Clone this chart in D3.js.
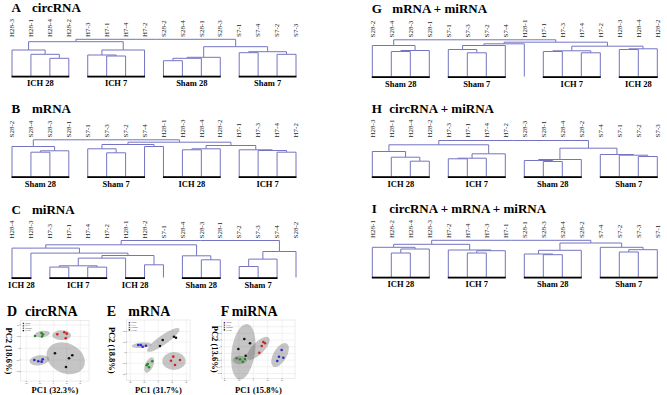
<!DOCTYPE html>
<html>
<head>
<meta charset="utf-8">
<script src="https://cdn.jsdelivr.net/npm/d3@7.9.0/dist/d3.min.js"></script>
<style>
  body { margin: 0; background: #fff; }
  svg { display: block; font-family: "Liberation Serif", "Times New Roman", serif; }
</style>
</head>
<body>
<svg id="fig" width="667" height="395"></svg>
<script>
// dendrograms: leaf order, merges [a, b, height] (negative = leaf position, positive = earlier merge), groups [label, first, last]
const leavesA = ['H28-3','H28-1','H28-4','H28-2','H7-3','H7-1','H7-4','H7-2','S28-2','S28-4','S28-1','S28-3','S7-1','S7-4','S7-2','S7-3'];
const mergesA = [[-3,-4,17.7],[-2,1,21.7],[-1,2,26],[-6,-7,20],[-5,4,21],[5,-8,26],[3,6,34.3],[-9,-10,15.3],[8,-11,17.7],[9,-12,18.7],[-15,-16,21.7],[-13,-14,23.3],[12,11,24.3],[10,13,29.3],[7,14,36.7]];
const groupsA = [['ICH 28',0,3],['ICH 7',4,7],['Sham 28',8,11],['Sham 7',12,15]];

const leavesB = ['S28-2','S28-4','S28-3','S28-1','S7-1','S7-3','S7-2','S7-4','H28-1','H28-3','H28-4','H28-2','H7-1','H7-3','H7-4','H7-2'];
const mergesB = [[-2,-3,24.3],[1,-4,25.7],[-1,2,30],[-6,-7,23.7],[-5,4,27.7],[-8,-9,30],[5,6,32],[-10,-11,26.7],[8,-12,27.7],[-15,-16,24.3],[-14,10,26],[-13,11,26.7],[9,12,31],[7,13,34.3],[3,14,36.7]];
const groupsB = [['Sham 28',0,3],['Sham 7',4,7],['ICH 28',8,11],['ICH 7',12,15]];

const leavesC = ['H28-4','H28-3','H7-3','H7-1','H7-4','H7-2','H28-1','H28-2','S7-1','S28-4','S28-3','S28-1','S7-2','S7-3','S7-4','S28-2'];
const mergesC = [[-3,-4,10.4],[-5,-6,10.4],[1,2,11.7],[-8,-9,12.7],[3,-7,19.4],[5,4,22],[-2,6,24.4],[-1,7,29.4],[-11,-12,17.7],[-10,9,21.7],[8,10,32.7],[-13,-14,11],[12,-15,18.4],[13,-16,26],[11,14,37]];
const groupsC = [['ICH 28',0,1],['ICH 7',2,5],['ICH 28',6,7],['Sham 28',9,11],['Sham 7',12,14]];

const leavesG = ['S28-2','S28-4','S28-3','S28-1','S7-1','S7-3','S7-2','S7-4','H28-1','H7-1','H7-3','H7-4','H7-2','H28-3','H28-4','H28-2'];
const mergesG = [[-2,-3,25],[1,-4,26],[-1,2,31],[-6,-7,23.7],[-5,4,27],[5,-8,31],[6,-9,32.7],[-10,-11,25],[-12,-13,23.7],[8,9,25.7],[-14,-15,27],[11,-16,27.7],[10,12,30.3],[7,13,34.3],[3,14,36.7]];
const groupsG = [['Sham 28',0,3],['Sham 7',4,7],['ICH 7',9,12],['ICH 28',13,15]];

const leavesH = ['H28-3','H28-1','H28-4','H28-2','H7-3','H7-1','H7-4','H7-2','S28-3','S28-1','S28-4','S28-2','S7-4','S7-1','S7-2','S7-3'];
const mergesH = [[-3,-4,15.3],[-2,1,19.3],[-1,2,25],[-5,-6,17.7],[4,-7,18.3],[5,-8,22.7],[3,6,31.7],[-10,-11,15],[-9,8,16],[9,-12,17],[-15,-16,20],[-14,11,21.3],[-13,12,22],[10,13,28.3],[7,14,36]];
const groupsH = [['ICH 28',0,3],['ICH 7',4,7],['Sham 28',8,11],['Sham 7',12,15]];

const leavesI = ['H28-1','H28-2','H28-4','H28-3','H7-2','H7-4','H7-3','H7-1','S28-1','S28-3','S28-4','S28-2','S7-4','S7-2','S7-3','S7-1'];
const mergesI = [[-2,-3,24],[1,-4,28],[-1,2,29.7],[-6,-7,24],[4,-8,26.3],[-5,5,27],[3,6,32.7],[-10,-11,22.3],[-9,8,23],[9,-12,26.7],[-14,-15,25],[11,-16,27.3],[-13,12,29.7],[10,13,34],[7,14,36.7]];
const groupsI = [['ICH 28',0,3],['ICH 7',4,7],['Sham 28',8,11],['Sham 7',12,15]];

// PCA: legend groups, points [group, PC1, PC2], ellipses [group, cx, cy, a, b, angle]
const pcaGroups = ['Sham7','ICH7','Sham28','ICH28'];
const pointsD = [
  ['Sham28',-27.1,21.0],['Sham28',-17.5,26.2],['Sham28',-15.3,23.6],['Sham28',-16.7,20.2],
  ['ICH7',5.9,23.9],['ICH7',16.3,27.4],['ICH7',19.9,25.0],['ICH7',18.4,17.1],
  ['Sham7',-28.1,-20.0],['Sham7',-22.2,-22.2],['Sham7',-17.2,-22.9],['Sham7',-15.7,-18.8],
  ['ICH28',2.5,-8.5],['ICH28',28.1,-12.0],['ICH28',23.3,-17.1],['ICH28',18.8,-32.0]];
const ellipsesD = [['Sham28',-16.3,24.4,11.4,5.5,-8],['ICH7',12.4,22.2,13.8,8.5,0],['Sham7',-20.7,-20.5,14.8,8.5,-8],['ICH28',18.4,-17.1,29.6,25.6,25]];

const pointsE = [
  ['Sham7',-28.6,14.5],['Sham7',-25.1,14.5],['Sham7',-22.3,11.3],['Sham7',-17.6,13.2],
  ['ICH28',2.4,12.6],['ICH28',6.3,24.0],['ICH28',22.4,30.2],['ICH28',25.3,28.3],
  ['Sham28',-15.1,-21.3],['Sham28',-8.6,-16.2],['Sham28',-13.3,-27.5],['Sham28',-16.6,-23.8],
  ['ICH7',18.1,-15.1],['ICH7',21.4,-7.5],['ICH7',31.0,-13.8],['ICH7',23.9,-23.2]];
const ellipsesE = [['Sham7',-23.7,14,14.3,5.1,-5],['ICH28',7.1,24,27.9,8.9,-35],['Sham28',-12.9,-23.2,11.9,7.5,-65],['ICH7',22.4,-15.7,16.7,17,0]];

const pointsF = [
  ['ICH28',-12.5,11.5],['ICH28',-4.6,5.1],['ICH28',-20.8,-3.4],['ICH28',-10.6,-13.4],
  ['ICH7',13.9,7.0],['ICH7',11.7,1.0],['ICH7',16.3,5.1],['ICH7',8.3,-9.0],
  ['Sham7',39.4,-4.9],['Sham7',35.7,-14.9],['Sham7',41.7,-16.4],['Sham7',33.3,-21.3],
  ['Sham28',-23.1,-17.3],['Sham28',-18.5,-18.8],['Sham28',-14.7,-22.4],['Sham28',-11.5,-18.4]];
const ellipsesF = [['ICH28',-13.9,-7.5,16.2,41.8,8],['ICH7',6.9,-2.4,20.8,9,-45],['Sham7',37.1,-12.4,18.5,10,-60],['Sham28',-18.5,-19.9,10.1,6.4,0]];

const svg = d3.select('#fig');
const lineColor = '#7474c2';
const groupColor = d3.scaleOrdinal().domain(pcaGroups).range(['#2a2ad4', '#d42020', '#1e8c1e', '#111111']);

function drawDendro(p) {
  const g = svg.append('g');
  const bottom = p.top + 64;
  const x = d3.scalePoint().domain(d3.range(p.leaves.length)).range(p.xRange);
  const y = d3.scaleLinear().domain([0, 37]).range([bottom, bottom - 37]);

  // build nested tree from merge list
  const nodes = p.merges.map(m => ({ h: m[2], kids: [m[0], m[1]] }));
  const ref = k => k < 0 ? { leaf: -k - 1, h: 0 } : nodes[k - 1];
  nodes.forEach(n => n.children = n.kids.map(ref));
  const root = d3.hierarchy(nodes[nodes.length - 1]);
  root.eachAfter(d => {
    d.px = d.children ? d3.mean(d.children, c => c.px) : x(d.data.leaf);
    d.py = y(d.data.h);
  });

  g.selectAll('path.link')
    .data(root.links())
    .join('path')
    .attr('fill', 'none')
    .attr('stroke', lineColor)
    .attr('stroke-width', 1)
    .attr('d', l => `M${l.target.px},${l.target.py}V${l.source.py}H${l.source.px}`);

  g.selectAll('rect.bar')
    .data(p.groups)
    .join('rect')
    .attr('x', d => x(d[1]) - 0.5)
    .attr('width', d => x(d[2]) - x(d[1]) + 1)
    .attr('y', bottom - 0.3)
    .attr('height', 1.8)
    .attr('fill', '#000');

  g.selectAll('text.grp')
    .data(p.groups)
    .join('text')
    .attr('x', d => (x(d[1]) + x(d[2])) / 2)
    .attr('y', bottom + 10)
    .attr('text-anchor', 'middle')
    .attr('font-weight', 'bold')
    .attr('font-size', 8.5)
    .text(d => d[0]);

  g.selectAll('text.leaf')
    .data(p.leaves)
    .join('text')
    .attr('transform', (d, i) => `translate(${x(i) + 2.2},${p.top + 25}) rotate(-90)`)
    .attr('font-size', 7)
    .attr('fill', '#222')
    .text(d => d);

  g.append('text').attr('x', p.xRange[0] - 0.5).attr('y', p.top)
    .attr('font-weight', 'bold').attr('font-size', 13).text(p.tag);
  g.append('text').attr('x', p.xRange[0] + p.gap).attr('y', p.top)
    .attr('font-weight', 'bold').attr('font-size', 13).text(p.name);
}

const leftX = [12, 296], rightX = [372.3, 657.3];
drawDendro({ tag: 'A', name: 'circRNA', leaves: leavesA, merges: mergesA, groups: groupsA, xRange: leftX, top: 12, gap: 20 });
drawDendro({ tag: 'B', name: 'mRNA', leaves: leavesB, merges: mergesB, groups: groupsB, xRange: leftX, top: 112.5, gap: 20 });
drawDendro({ tag: 'C', name: 'miRNA', leaves: leavesC, merges: mergesC, groups: groupsC, xRange: leftX, top: 213.5, gap: 20 });
drawDendro({ tag: 'G', name: 'mRNA + miRNA', leaves: leavesG, merges: mergesG, groups: groupsG, xRange: rightX, top: 12.5, gap: 20 });
drawDendro({ tag: 'H', name: 'circRNA + miRNA', leaves: leavesH, merges: mergesH, groups: groupsH, xRange: rightX, top: 112.5, gap: 17 });
drawDendro({ tag: 'I', name: 'circRNA + mRNA + miRNA', leaves: leavesI, merges: mergesI, groups: groupsI, xRange: rightX, top: 213, gap: 17 });

function drawPCA(p) {
  const g = svg.append('g');
  const [l, r, t, b] = p.box;
  const x = d3.scaleLinear().domain(p.xDomain).range([l, r]);
  const y = d3.scaleLinear().domain(p.yDomain).range([b, t]);

  g.append('rect').attr('x', l).attr('y', t).attr('width', r - l).attr('height', b - t)
    .attr('fill', '#fff').attr('stroke', '#d8d8d8').attr('stroke-width', 0.5);

  g.selectAll('line.gx').data(p.xTicks).join('line')
    .attr('x1', d => x(d)).attr('x2', d => x(d)).attr('y1', t).attr('y2', b)
    .attr('stroke', '#e4e4e4').attr('stroke-width', 0.5);
  g.selectAll('line.gy').data(p.yTicks).join('line')
    .attr('y1', d => y(d)).attr('y2', d => y(d)).attr('x1', l).attr('x2', r)
    .attr('stroke', '#e4e4e4').attr('stroke-width', 0.5);

  // tiny ticks + labels
  g.selectAll('line.tx').data(p.xTicks).join('line')
    .attr('x1', d => x(d)).attr('x2', d => x(d)).attr('y1', b).attr('y2', b + 1)
    .attr('stroke', '#555').attr('stroke-width', 0.5);
  g.selectAll('text.tx').data(p.xTicks).join('text')
    .attr('x', d => x(d)).attr('y', b + 2.7).attr('text-anchor', 'middle')
    .attr('font-size', 2.2).attr('fill', '#555').text(d => d);
  g.selectAll('line.ty').data(p.yTicks).join('line')
    .attr('y1', d => y(d)).attr('y2', d => y(d)).attr('x1', l - 1.2).attr('x2', l)
    .attr('stroke', '#555').attr('stroke-width', 0.5);
  g.selectAll('text.ty').data(p.yTicks).join('text')
    .attr('x', l - 1.6).attr('y', d => y(d) + 0.8).attr('text-anchor', 'end')
    .attr('font-size', 2.2).attr('fill', '#555').text(d => d);

  const kx = Math.abs(x(1) - x(0)), ky = Math.abs(y(1) - y(0));
  g.selectAll('ellipse').data(p.ellipses).join('ellipse')
    .attr('cx', d => x(d[1])).attr('cy', d => y(d[2]))
    .attr('rx', d => d[3] * kx).attr('ry', d => d[4] * ky)
    .attr('transform', d => `rotate(${d[5]},${x(d[1])},${y(d[2])})`)
    .attr('fill', '#6e6e6e').attr('fill-opacity', 0.4);

  g.selectAll('circle').data(p.points).join('circle')
    .attr('cx', d => x(d[1])).attr('cy', d => y(d[2])).attr('r', 1.3)
    .attr('fill', d => groupColor(d[0]));

  // legend
  const lg = g.append('g').attr('transform', `translate(${l + 2},${t + 2})`);
  lg.selectAll('rect').data(pcaGroups).join('rect')
    .attr('x', 0).attr('y', (d, i) => i * 2.4).attr('width', 1.4).attr('height', 1.4)
    .attr('fill', d => groupColor(d));
  lg.selectAll('text').data(pcaGroups).join('text')
    .attr('x', 2.5).attr('y', (d, i) => i * 2.4 + 1.3)
    .attr('font-size', 2).attr('fill', '#333').text(d => d);

  g.append('text').attr('x', p.tagX).attr('y', 315.5)
    .attr('font-weight', 'bold').attr('font-size', 14).text(p.tag);
  g.append('text').attr('x', p.nameX).attr('y', 315.5)
    .attr('font-weight', 'bold').attr('font-size', 14).text(p.name);

  g.append('text').attr('x', (l + r) / 2).attr('y', 392.5).attr('text-anchor', 'middle')
    .attr('font-weight', 'bold').attr('font-size', 8.5).text(p.xLabel);
  g.append('text').attr('transform', `translate(${p.yLabelX},${(t + b) / 2}) rotate(90)`)
    .attr('text-anchor', 'middle').attr('font-weight', 'bold').attr('font-size', 8.5).text(p.yLabel);
}

const ticks40 = [-40, -20, 0, 20, 40];
drawPCA({ tag: 'D', name: 'circRNA', tagX: 7, nameX: 25, box: [20.7, 89, 320.7, 381],
  xDomain: [-48.3, 52.9], yDomain: [-56, 47.2], xTicks: ticks40, yTicks: ticks40,
  points: pointsD, ellipses: ellipsesD, xLabel: 'PC1 (32.3%)', yLabel: 'PC2 (18.6%)', yLabelX: 5.5 });
drawPCA({ tag: 'E', name: 'mRNA', tagX: 106.7, nameX: 128.3, box: [126.7, 190, 320, 380.5],
  xDomain: [-45.1, 45.3], yDomain: [-52.5, 61.7], xTicks: ticks40, yTicks: ticks40,
  points: pointsE, ellipses: ellipsesE, xLabel: 'PC1 (31.7%)', yLabel: 'PC2 (18.8%)', yLabelX: 109 });
drawPCA({ tag: 'F', name: 'miRNA', tagX: 220.7, nameX: 231.7, box: [221.7, 295, 320, 378.3],
  xDomain: [-43.9, 57.9], yDomain: [-47.2, 39.9], xTicks: ticks40, yTicks: [-40, -30, -20, -10, 0, 10, 20, 30],
  points: pointsF, ellipses: ellipsesF, xLabel: 'PC1 (15.8%)', yLabel: 'PC2 (13.6%)', yLabelX: 212.2 });
</script>
</body>
</html>
